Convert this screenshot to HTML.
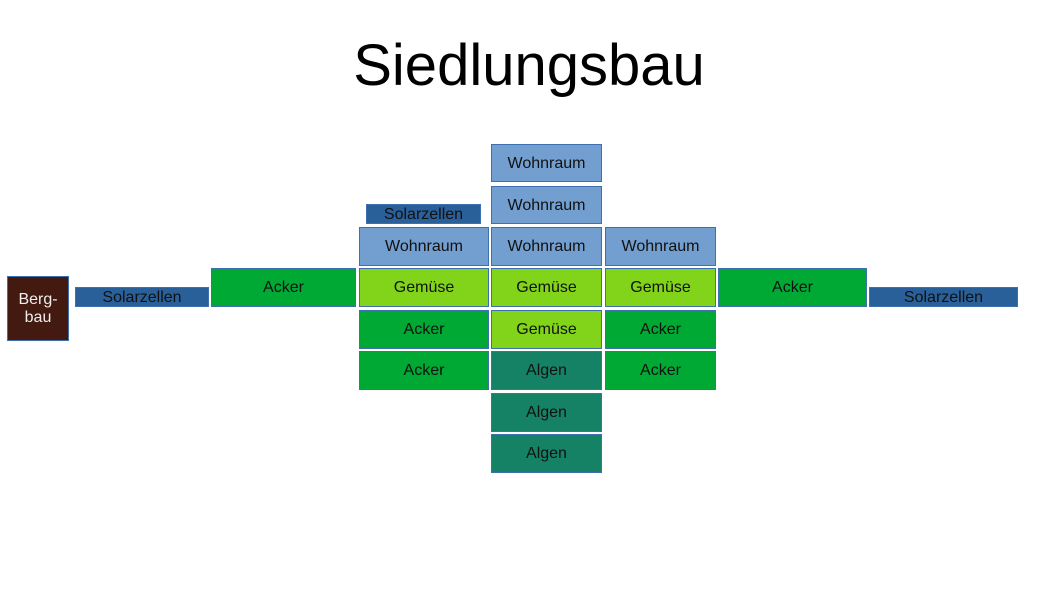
<!DOCTYPE html>
<html><head><meta charset="utf-8"><style>
body{margin:0;width:1058px;height:595px;background:#fff;position:relative;overflow:hidden;font-family:"Liberation Sans",sans-serif}
.t{position:absolute;left:0;width:1058px;top:32px;text-align:center;font-size:58px;color:#000}
.b{position:absolute;box-sizing:border-box;border:1px solid #3e6fae;display:flex;align-items:center;justify-content:center;font-size:16px;color:#111;text-align:center;line-height:18px;padding-top:1px}
.w{background:#729fcf}.s{background:#2a6099}.a{background:#00a933}.g{background:#81d41a}.l{background:#168265}.m{background:#421a10;color:#eee}
</style></head><body>
<div class="t">Siedlungsbau</div>
<div class="b w" style="left:491px;top:144px;width:111px;height:38px">Wohnraum</div>
<div class="b w" style="left:491px;top:186px;width:111px;height:38px">Wohnraum</div>
<div class="b s" style="left:366px;top:204px;width:115px;height:20px">Solarzellen</div>
<div class="b w" style="left:359px;top:227px;width:130px;height:39px">Wohnraum</div>
<div class="b w" style="left:491px;top:227px;width:111px;height:39px">Wohnraum</div>
<div class="b w" style="left:605px;top:227px;width:111px;height:39px">Wohnraum</div>
<div class="b m" style="left:7px;top:276px;width:62px;height:65px">Berg-<br>bau</div>
<div class="b s" style="left:75px;top:287px;width:134px;height:20px">Solarzellen</div>
<div class="b a" style="left:211px;top:268px;width:145px;height:39px">Acker</div>
<div class="b g" style="left:359px;top:268px;width:130px;height:39px">Gemüse</div>
<div class="b g" style="left:491px;top:268px;width:111px;height:39px">Gemüse</div>
<div class="b g" style="left:605px;top:268px;width:111px;height:39px">Gemüse</div>
<div class="b a" style="left:718px;top:268px;width:149px;height:39px">Acker</div>
<div class="b s" style="left:869px;top:287px;width:149px;height:20px">Solarzellen</div>
<div class="b a" style="left:359px;top:310px;width:130px;height:39px">Acker</div>
<div class="b g" style="left:491px;top:310px;width:111px;height:39px">Gemüse</div>
<div class="b a" style="left:605px;top:310px;width:111px;height:39px">Acker</div>
<div class="b a" style="left:359px;top:351px;width:130px;height:39px">Acker</div>
<div class="b l" style="left:491px;top:351px;width:111px;height:39px">Algen</div>
<div class="b a" style="left:605px;top:351px;width:111px;height:39px">Acker</div>
<div class="b l" style="left:491px;top:393px;width:111px;height:39px">Algen</div>
<div class="b l" style="left:491px;top:434px;width:111px;height:39px">Algen</div>
</body></html>
